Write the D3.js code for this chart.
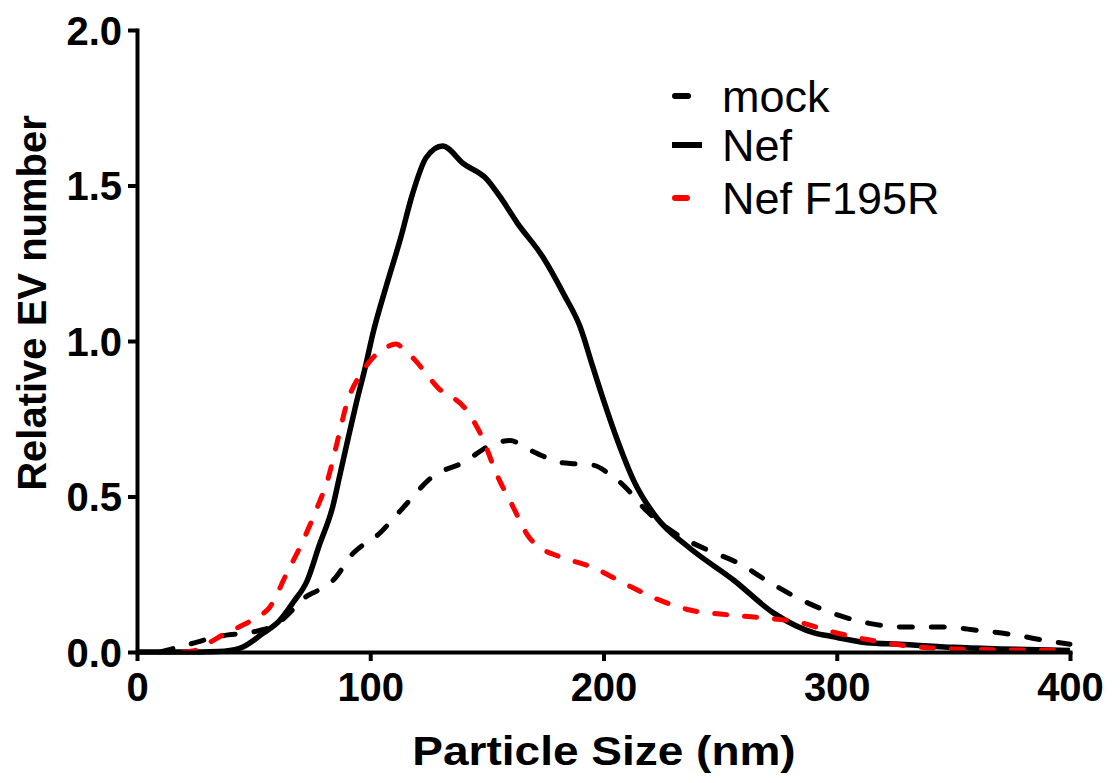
<!DOCTYPE html>
<html>
<head>
<meta charset="utf-8">
<script src="https://cdn.jsdelivr.net/npm/d3@7"></script>
<style>
  html, body { margin: 0; padding: 0; background: #fff; }
  svg { display: block; }
  text { font-family: "Liberation Sans", Arial, sans-serif; }
</style>
</head>
<body>
<svg id="chart" width="1120" height="783"></svg>
<script>
// Size distributions of extracellular vesicles (relative number vs particle size in nm)
const seriesNames = ["mock", "Nef", "Nef F195R"];

const mockSize = [10, 18, 25, 32, 39, 46, 53, 60, 66, 71, 78, 84, 93, 98, 103, 110, 116, 126, 140, 153, 160, 167, 174, 181, 188, 196, 202, 208, 219, 231, 244, 258, 271, 285, 300, 314, 330, 346, 360, 376, 391, 400];
const mockValue = [0, 0.016, 0.03, 0.045, 0.055, 0.06, 0.07, 0.09, 0.13, 0.17, 0.2, 0.23, 0.32, 0.35, 0.375, 0.43, 0.48, 0.56, 0.61, 0.67, 0.68, 0.655, 0.63, 0.61, 0.605, 0.6, 0.575, 0.54, 0.45, 0.38, 0.33, 0.285, 0.225, 0.167, 0.12, 0.092, 0.08, 0.08, 0.07, 0.055, 0.035, 0.025];

const nefSize = [0, 20, 35, 44, 54, 61, 67, 73, 78, 84, 87, 90, 94, 98, 101, 107, 113, 118, 124, 131, 140, 150, 156, 163, 174, 183, 190, 195.5, 200, 207, 213, 223, 236, 256, 273, 291, 298, 313, 327, 350, 370, 400];
const nefValue = [0, 0, 0.002, 0.012, 0.06, 0.1, 0.16, 0.23, 0.34, 0.47, 0.57, 0.67, 0.8, 0.92, 1.02, 1.18, 1.33, 1.47, 1.59, 1.627, 1.57, 1.52, 1.46, 1.38, 1.27, 1.15, 1.045, 0.915, 0.81, 0.66, 0.55, 0.43, 0.34, 0.23, 0.125, 0.06, 0.05, 0.03, 0.025, 0.015, 0.01, 0.005];

const f195rSize = [20, 25, 31, 38, 45, 51, 57, 64, 71, 77, 82, 86, 90, 96.5, 103, 107, 111, 115, 119, 129, 141, 148, 154, 161, 168, 174, 180, 196, 209, 223, 237, 253, 268, 283, 298, 313, 330, 350, 400];
const f195rValue = [0, 0.005, 0.03, 0.06, 0.085, 0.11, 0.145, 0.25, 0.355, 0.46, 0.56, 0.68, 0.8, 0.9, 0.96, 0.98, 0.99, 0.97, 0.94, 0.85, 0.78, 0.69, 0.575, 0.47, 0.37, 0.33, 0.31, 0.27, 0.22, 0.17, 0.135, 0.12, 0.11, 0.097, 0.065, 0.04, 0.02, 0.01, 0.005];

const xTicks = [0, 100, 200, 300, 400];
const yTicks = [0, 0.5, 1.0, 1.5, 2.0];

const svg = d3.select("#chart");

const x = d3.scaleLinear().domain([0, 400]).range([137, 1070]);
const y = d3.scaleLinear().domain([0, 2]).range([652, 30]);

const series = [
  { name: seriesNames[0], xs: mockSize, ys: mockValue, color: "#000", dash: "13,19" },
  { name: seriesNames[1], xs: nefSize, ys: nefValue, color: "#000", dash: null },
  { name: seriesNames[2], xs: f195rSize, ys: f195rValue, color: "#ff0000", dash: "12,18" }
];

const line = d3.line()
  .x(d => x(d[0]))
  .y(d => y(d[1]))
  .curve(d3.curveMonotoneX);

// curves
series.forEach(s => {
  const pts = s.xs.map((v, k) => [v, s.ys[k]]);
  svg.append("path")
    .datum(pts)
    .attr("d", line)
    .attr("fill", "none")
    .attr("stroke", s.color)
    .attr("stroke-width", s.dash ? 5 : 5.5)
    .attr("stroke-linecap", s.dash ? "round" : "butt")
    .attr("stroke-linejoin", "round")
    .attr("stroke-dasharray", s.dash);
});

// axes
const xAxis = svg.append("g")
  .attr("transform", `translate(0,${y(0)})`)
  .call(d3.axisBottom(x).tickValues(xTicks).tickSize(9).tickSizeOuter(0).tickPadding(12).tickFormat(d3.format("d")));
const yAxis = svg.append("g")
  .attr("transform", `translate(${x(0)},0)`)
  .call(d3.axisLeft(y).tickValues(yTicks).tickSize(9).tickSizeOuter(0).tickPadding(6).tickFormat(d3.format(".1f")));

[xAxis, yAxis].forEach(g => {
  g.select(".domain").attr("stroke", "#000").attr("stroke-width", 4).attr("stroke-linecap", "square");
  g.selectAll(".tick line").attr("stroke", "#000").attr("stroke-width", 4);
  g.selectAll(".tick text")
    .attr("fill", "#000")
    .style("font-family", "'Liberation Sans', Arial, sans-serif")
    .style("font-weight", "bold")
    .style("font-size", "40px");
});
xAxis.selectAll(".tick text").attr("dy", "0.71em");
yAxis.selectAll(".tick text").attr("dy", "0.36em");

// axis titles
svg.append("text")
  .attr("x", 0).attr("y", 0)
  .attr("transform", `translate(604,765) scale(1.15,1)`)
  .attr("text-anchor", "middle")
  .style("font-weight", "bold")
  .style("font-size", "40px")
  .text("Particle Size (nm)");

svg.append("text")
  .attr("transform", "translate(46,303) rotate(-90)")
  .attr("text-anchor", "middle")
  .style("font-weight", "bold")
  .style("font-size", "40px")
  .text("Relative EV number");

// legend
const legendRowY = [96, 145, 198];
series.forEach((s, i) => {
  const g = svg.append("g").attr("transform", `translate(0,${legendRowY[i]})`);
  g.append("line")
    .attr("x1", s.dash ? 675 : 672).attr("x2", 702)
    .attr("y1", 0).attr("y2", 0)
    .attr("stroke", s.color)
    .attr("stroke-width", 6)
    .attr("stroke-linecap", s.dash ? "round" : "butt")
    .attr("stroke-dasharray", s.dash);
  g.append("text")
    .attr("x", 722).attr("y", 16)
    .style("font-size", "45px")
    .attr("fill", "#000")
    .text(s.name);
});
</script>
</body>
</html>
